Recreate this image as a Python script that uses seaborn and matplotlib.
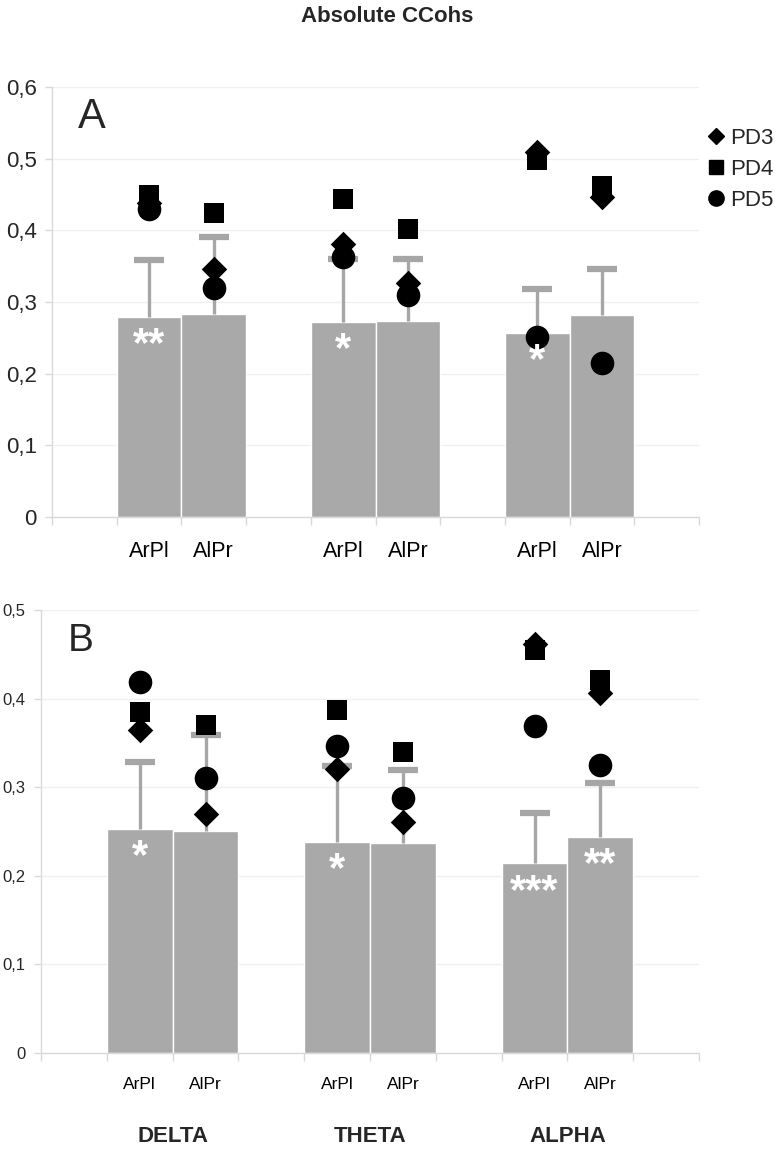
import pandas as pd
import numpy as np
import seaborn as sns
import matplotlib.pyplot as plt
from matplotlib.lines import Line2D
from matplotlib.ticker import FuncFormatter, FixedLocator
import matplotlib.transforms as mtransforms

# groups and sites
bands = ['DELTA', 'THETA', 'ALPHA']
sites = ['ArPl', 'AlPr']

# panel A
a_mean = [0.279, 0.283, 0.272, 0.274, 0.257, 0.282]
a_sd = [0.079, 0.107, 0.088, 0.086, 0.061, 0.064]
a_pd3 = [0.438, 0.346, 0.381, 0.326, 0.509, 0.446]
a_pd4 = [0.449, 0.424, 0.443, 0.402, 0.498, 0.462]
a_pd5 = [0.430, 0.320, 0.363, 0.310, 0.251, 0.215]
a_stars = ['**', '', '*', '', '*', '']

# panel B
b_mean = [0.253, 0.251, 0.238, 0.237, 0.214, 0.244]
b_sd = [0.075, 0.108, 0.086, 0.082, 0.057, 0.061]
b_pd3 = [0.364, 0.270, 0.321, 0.261, 0.462, 0.406]
b_pd4 = [0.385, 0.370, 0.387, 0.340, 0.455, 0.421]
b_pd5 = [0.419, 0.310, 0.346, 0.288, 0.369, 0.325]
b_stars = ['*', '', '*', '', '***', '**']

sns.set_theme(style="white")
plt.rcParams['font.family'] = ['Liberation Sans', 'DejaVu Sans']

BAR = '#a9a9a9'
ERR = '#a6a6a6'
AXC = '#d9d9d9'

# category order with empty slots between the bands
cats = [b + ' ' + s for b in bands for s in sites]
order = ['gap0']
for i, b in enumerate(bands):
    order += [b + ' ' + s for s in sites]
    order.append('gap' + str(i + 1))
pos = [order.index(c) for c in cats]


def comma(v, p):
    if abs(v) < 1e-9:
        return '0'
    return ('%.1f' % v).replace('.', ',')


def panel(ax, mean, sd, pd3, pd4, pd5, stars, ymax, ytick_fs, xtick_fs, letter, letter_fs):
    df = pd.DataFrame({'cat': cats, 'mean': mean, 'sd': sd,
                       'PD3': pd3, 'PD4': pd4, 'PD5': pd5})
    sns.barplot(data=df, x='cat', y='mean', order=order, color=BAR, width=1.0,
                edgecolor='white', linewidth=1, errorbar=None, saturation=1, ax=ax, zorder=2)

    # upper error bars only (Excel style)
    top = df['mean'] + df['sd']
    ax.vlines(pos, df['mean'], top, color=ERR, lw=2.4, zorder=3)
    ax.plot(pos, top, ls='none', marker='_', ms=21, mew=4.5, color=ERR, zorder=3)

    for col, mk, sz in [('PD3', 'D', 13), ('PD4', 's', 15), ('PD5', 'o', 17)]:
        sns.stripplot(data=df, x='cat', y=col, order=order, jitter=False, marker=mk,
                      size=sz, color='black', linewidth=0, ax=ax, zorder=4)

    for p, m, s in zip(pos, mean, stars):
        if s:
            ax.annotate(s, (p, m), xytext=(0, -6), textcoords='offset points',
                        ha='center', va='top', color='white', fontsize=30,
                        fontweight='bold', zorder=5)

    ax.set_xlim(-0.5, len(order) - 0.5)
    ax.set_ylim(0, ymax)
    ax.set_yticks(np.arange(0, ymax + 0.001, 0.1))
    ax.yaxis.set_major_formatter(FuncFormatter(comma))
    ax.set_xticks(pos)
    ax.set_xticklabels([c.split(' ')[1] for c in cats])
    ax.xaxis.set_minor_locator(FixedLocator(np.arange(-0.5, len(order), 1.0)))
    ax.tick_params(axis='x', which='major', length=0, pad=17, labelsize=xtick_fs, colors='black')
    ax.tick_params(axis='x', which='minor', length=6, width=1, color=AXC, bottom=True)
    ax.tick_params(axis='y', length=5, width=1, color=AXC, pad=6, labelsize=ytick_fs, left=True)
    ax.set_xlabel('')
    ax.set_ylabel('')
    ax.yaxis.grid(True, color='#f0f0f0', lw=1)
    ax.set_axisbelow(True)
    for sp in ['top', 'right']:
        ax.spines[sp].set_visible(False)
    for sp in ['left', 'bottom']:
        ax.spines[sp].set_color(AXC)
        ax.spines[sp].set_linewidth(1)
    ax.text(0.04, 0.93, letter, transform=ax.transAxes, fontsize=letter_fs, va='center', ha='left')


fig = plt.figure(figsize=(7.75, 11.63), dpi=100)
ax1 = fig.add_axes([0.0671, 0.5555, 0.8349, 0.3697])
ax2 = fig.add_axes([0.0529, 0.0946, 0.8491, 0.3809])

panel(ax1, a_mean, a_sd, a_pd3, a_pd4, a_pd5, a_stars, 0.6, 16, 15.5, 'A', 30)
panel(ax2, b_mean, b_sd, b_pd3, b_pd4, b_pd5, b_stars, 0.5, 12, 12.5, 'B', 28)

# band names under the lower panel
trans = mtransforms.blended_transform_factory(ax2.transData, fig.transFigure)
for i, b in enumerate(bands):
    cx = (pos[2 * i] + pos[2 * i + 1]) / 2
    fig.text(cx, 1 - 1137 / 1163, b, transform=trans, ha='center', va='center',
             fontsize=16, fontweight='bold')

fig.text(0.5, 1 - 17 / 1163, 'Absolute CCohs', ha='center', va='center',
         fontsize=16, fontweight='bold')

handles = [Line2D([], [], ls='none', marker='D', ms=8, color='black'),
           Line2D([], [], ls='none', marker='s', ms=10, color='black'),
           Line2D([], [], ls='none', marker='o', ms=11, color='black')]
fig.legend(handles, ['PD3', 'PD4', 'PD5'], loc='upper left', frameon=False,
           bbox_to_anchor=(708 / 775, 1 - 128 / 1163), fontsize=16,
           handlelength=0.7, handletextpad=0.3, labelspacing=0.45, borderaxespad=0, borderpad=0)

fig.savefig('out.png', dpi=100)
